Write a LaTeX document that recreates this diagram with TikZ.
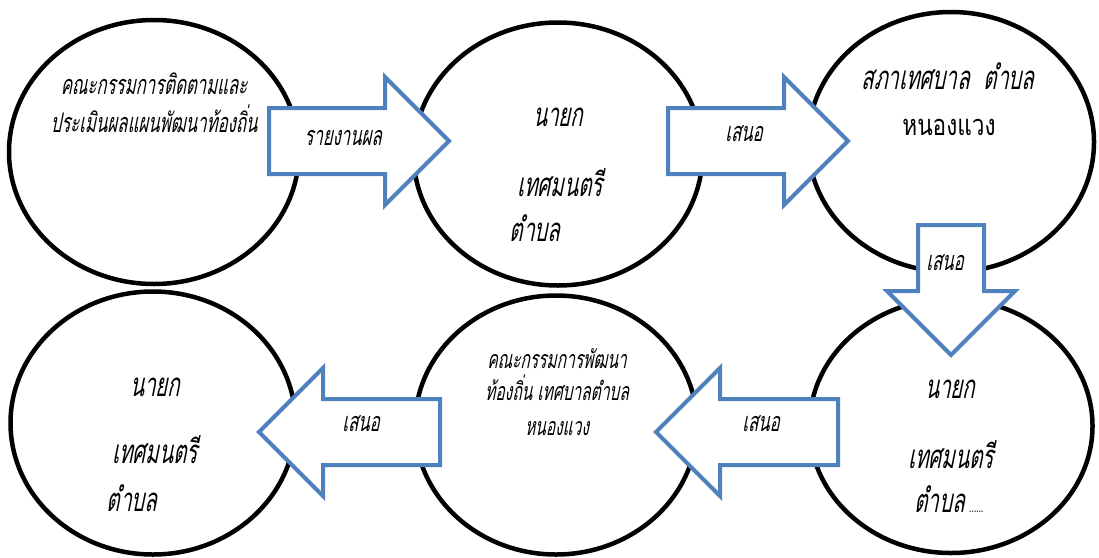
\documentclass[tikz,border=0pt]{standalone}
\usepackage{fontspec}
\usetikzlibrary{shapes.geometric,shapes.arrows}
\newfontfamily\thaiit[Script=Thai,FakeSlant=0.2,FakeStretch=0.62]{Loma}
\newfontfamily\thairm[Script=Thai,FakeStretch=0.78]{Loma}
\definecolor{bleu}{RGB}{79,129,189}
\begin{document}
\begin{tikzpicture}[x=1pt,y=-1pt,
  cercle/.style={ellipse,draw,line width=4.5pt,inner sep=0pt},
  fleche/.style={single arrow,draw=bleu,fill=white,line width=4pt,inner xsep=0pt,inner ysep=31pt,
    minimum width=124pt,single arrow head extend=31pt,single arrow tip angle=90,
    single arrow head indent=0pt,anchor=tail},
  texte/.style={anchor=mid,yshift=-6pt,inner sep=0pt,font=\thaiit\fontsize{27}{29}\selectfont},
  grand/.style={texte,font=\thaiit\fontsize{33}{35}\selectfont},
  petit/.style={texte,font=\thaiit\fontsize{25}{27}\selectfont}]
\useasboundingbox (0,0) rectangle (1099,557);
\node [cercle,minimum width=290pt,minimum height=264pt] (comite) at (154,152) {};
\node [cercle,minimum width=289pt,minimum height=263pt] (maire) at (558,154) {};
\node [cercle,minimum width=286pt,minimum height=260pt] (conseil) at (951,142) {};
\node [cercle,minimum width=283pt,minimum height=254pt] (maire2) at (951,426) {};
\node [cercle,minimum width=282pt,minimum height=259pt] (comdev) at (556,425) {};
\node [cercle,minimum width=285pt,minimum height=263pt] (maire3) at (153,423) {};
\node [fleche,minimum height=180pt] (f1) at (267,141) {};
\node [fleche,minimum height=180pt] (f2) at (666,141) {};
\node [fleche,minimum height=130pt,shape border rotate=270,inner xsep=31pt,inner ysep=0pt] (f3) at (951,223) {};
\node [fleche,minimum height=182pt,shape border rotate=180] (f4) at (840,432) {};
\node [fleche,minimum height=181pt,shape border rotate=180] (f5) at (442,432) {};
% textes
\node [texte] (c1) at (154,86) {คณะกรรมการติดตามและ};
\node [texte] (c2) at (154,124) {ประเมินผลแผนพัฒนาท้องถิ่น};
\node [texte] (l1) at (343,137) {รายงานผล};
\node [grand] (m1) at (558,118) {นายก};
\node [grand] (m2) at (560,188) {เทศมนตรี};
\node [grand] (m3) at (535,233) {ตำบล};
\node [texte] (l2) at (744,133) {เสนอ};
\node [grand] (s1) at (948,81) {สภาเทศบาล\ \ ตำบล};
\node [grand,font=\thairm\fontsize{29}{31}\selectfont] (s2) at (949,127) {หนองแวง};
\node [texte] (l3) at (945,262) {เสนอ};
\node [grand] (n1) at (950,390) {นายก};
\node [grand] (n2) at (951,460) {เทศมนตรี};
\node [grand] (n3) at (949,504) {ตำบล\hspace{4pt}{\fontsize{14}{14}\selectfont......}};
\node [texte] (l4) at (761,423) {เสนอ};
\node [petit] (d1) at (557,360) {คณะกรรมการพัฒนา};
\node [petit] (d2) at (557,392) {ท้องถิ่น\hspace{5pt}เทศบาลตำบล};
\node [petit] (d3) at (557,427) {หนองแวง};
\node [texte] (l5) at (361,423) {เสนอ};
\node [grand] (p1) at (155,388) {นายก};
\node [grand] (p2) at (155,455) {เทศมนตรี};
\node [grand] (p3) at (132,503) {ตำบล};
\end{tikzpicture}
\end{document}
